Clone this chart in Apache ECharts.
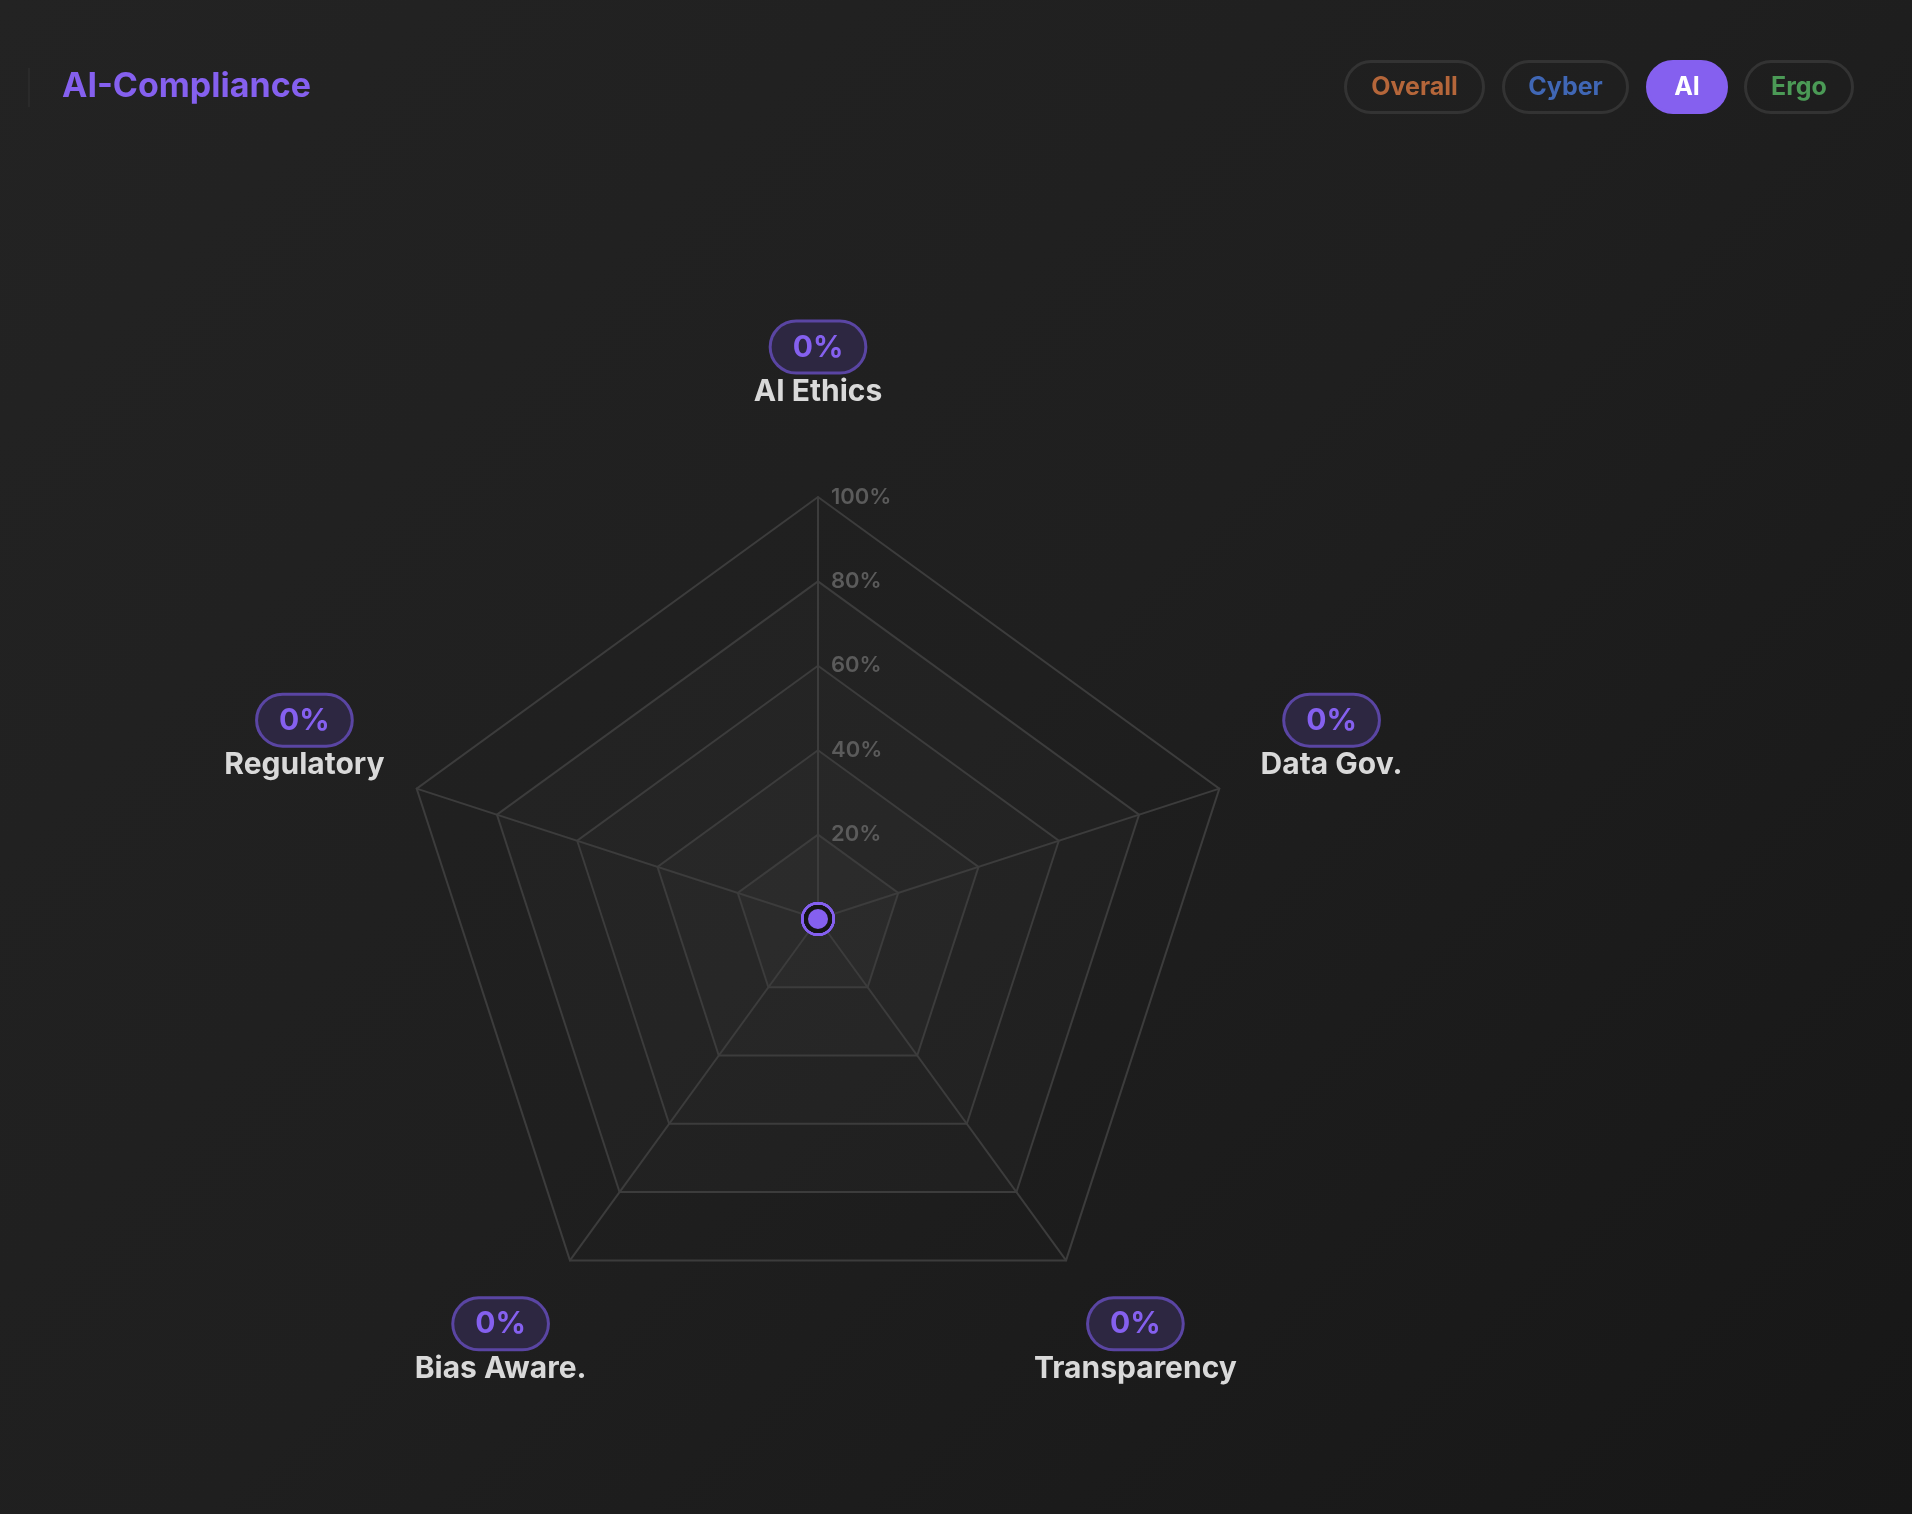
<!DOCTYPE html>
<html>
<head>
<meta charset="utf-8">
<title>AI-Compliance</title>
<script src="https://cdn.jsdelivr.net/npm/echarts@6/dist/echarts.min.js"></script>
<style>
  html, body { margin: 0; padding: 0; }
  body { background: linear-gradient(135deg, #232323 0%, #1f1f1f 50%, #171717 100%); }
  #chart { width: 1912px; height: 1514px; }
</style>
</head>
<body>
<div id="chart"></div>
<script>
const indicatorNames = ['AI Ethics', 'Regulatory', 'Bias Aware.', 'Transparency', 'Data Gov.'];
const aiScores = [0, 0, 0, 0, 0];
const tabLabels = ['Overall', 'Cyber', 'AI', 'Ergo'];
const tabColors = ['#b5663a', '#4067b5', '#ffffff', '#4b9a56'];

const purple = '#8560ef';
const font = 'Inter, "Noto Sans", sans-serif';

const chart = echarts.init(document.getElementById('chart'));

// pill buttons top right
const tabBoxes = [
  { x: 1344, w: 141 },
  { x: 1502, w: 127 },
  { x: 1646, w: 82 },
  { x: 1744, w: 110 }
];
const tabGraphics = [];
tabLabels.forEach((label, i) => {
  const b = tabBoxes[i];
  const active = label === 'AI';
  tabGraphics.push({
    type: 'rect',
    shape: { x: b.x + 1.5, y: 61.5, width: b.w - 3, height: 51, r: 25.5 },
    style: active
      ? { fill: purple, stroke: purple, lineWidth: 3 }
      : { fill: 'transparent', stroke: '#333333', lineWidth: 3 }
  });
  tabGraphics.push({
    type: 'text',
    x: b.x + b.w / 2,
    y: 87,
    style: {
      text: label,
      fill: tabColors[i],
      font: '700 25px ' + font,
      textAlign: 'center',
      textVerticalAlign: 'middle'
    }
  });
});

const options = {
  backgroundColor: 'transparent',
  graphic: [
    {
      type: 'rect',
      shape: { x: 28, y: 68, width: 2, height: 39 },
      style: { fill: '#2a2a2a' }
    },
    {
      type: 'text',
      x: 62,
      y: 87,
      style: {
        text: 'AI-Compliance',
        fill: purple,
        font: '700 34px ' + font,
        textVerticalAlign: 'middle'
      }
    },
    ...tabGraphics
  ],
  radar: {
    center: [818, 919],
    radius: 422,
    startAngle: 90,
    splitNumber: 5,
    shape: 'polygon',
    nameGap: 118,
    indicator: indicatorNames.map((name, i) => ({
      name: name,
      min: 0,
      max: 100,
      axisLabel: i === 0 ? {
        show: true,
        showMinLabel: false,
        formatter: '{value}%',
        color: '#5b5b5b',
        fontSize: 22,
        fontWeight: 600,
        fontFamily: font,
        margin: -13,
        align: 'left',
        verticalAlign: 'middle'
      } : { show: false }
    })),
    axisName: {
      align: 'center',
      verticalAlign: 'middle',
      padding: [0, 0, 24, 0],
      formatter: (name) => {
        const idx = indicatorNames.indexOf(name);
        return '{badge|' + aiScores[idx] + '%}\n{name|' + name + '}';
      },
      rich: {
        badge: {
          color: purple,
          fontSize: 30,
          fontWeight: 700,
          fontFamily: font,
          backgroundColor: '#2d2741',
          borderColor: '#5a45a3',
          borderWidth: 3,
          borderRadius: 26,
          padding: [10, 21, 9, 21],
          lineHeight: 50
        },
        name: {
          color: '#d9d9d9',
          fontSize: 30,
          fontWeight: 700,
          fontFamily: font,
          lineHeight: 40
        }
      }
    },
    axisLine: { lineStyle: { color: '#3c3c3c', width: 2 } },
    splitLine: { lineStyle: { color: '#3c3c3c', width: 2 } },
    splitArea: {
      show: true,
      areaStyle: {
        color: [
          'rgba(255,255,255,0.055)',
          'rgba(255,255,255,0.04)',
          'rgba(255,255,255,0.025)',
          'rgba(255,255,255,0.015)',
          'rgba(255,255,255,0.005)'
        ]
      }
    },
    axisTick: { show: false },
    axisLabel: { show: false }
  },
  series: [
    {
      type: 'radar',
      z: 2,
      symbol: 'circle',
      symbolSize: 34,
      lineStyle: { width: 0 },
      itemStyle: { color: purple },
      silent: true,
      data: [{ value: aiScores }]
    },
    {
      type: 'radar',
      z: 3,
      symbol: 'circle',
      symbolSize: 24,
      lineStyle: { color: purple, width: 2 },
      areaStyle: { color: 'rgba(133,96,239,0.25)' },
      itemStyle: { color: purple, borderColor: '#151515', borderWidth: 4 },
      data: [{ value: aiScores, name: 'AI' }]
    }
  ]
};

chart.setOption(options);
</script>
</body>
</html>
